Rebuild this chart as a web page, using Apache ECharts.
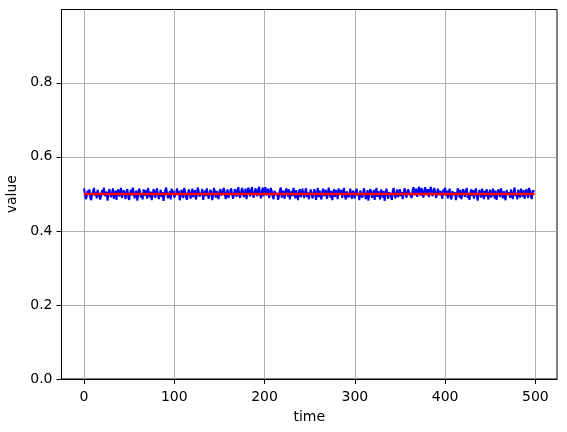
<!DOCTYPE html>
<html>
<head>
<meta charset="utf-8">
<script src="https://cdn.jsdelivr.net/npm/echarts@6/dist/echarts.min.js"></script>
<style>html,body{margin:0;padding:0;background:#fff}#c{width:567px;height:432px}</style>
</head>
<body>
<div id="c"></div>
<script>
const xTicks = [0, 100, 200, 300, 400, 500];
const yTicks = [0, 0.2, 0.4, 0.6, 0.8];
const meanLevel = [0.5, 0.5];
const meanTimes = [0, 499];
const values = [
0.515,0.498,0.486,0.493,0.509,0.501,0.512,0.489,0.483,0.5,0.507,0.516,0.495,0.504,0.488,0.511,0.514,0.492,0.485,0.497,0.51,0.503,0.517,0.494,0.49,0.506,0.482,0.499,0.513,0.508,0.491,0.502,0.515,0.487,0.496,0.509,0.484,0.505,0.512,0.493,0.5,0.516,0.489,0.494,0.51,0.498,0.486,0.507,0.513,0.491,
0.484,0.502,0.511,0.496,0.517,0.505,0.488,0.493,0.509,0.482,0.498,0.514,0.507,0.49,0.501,0.485,0.512,0.495,0.51,0.503,0.487,0.516,0.499,0.491,0.506,0.483,0.497,0.513,0.504,0.489,0.508,0.515,0.494,0.486,0.5,0.511,0.492,0.505,0.481,0.496,0.51,0.517,0.502,0.488,0.493,0.507,0.485,0.514,0.499,0.509,
0.49,0.486,0.503,0.515,0.497,0.508,0.483,0.494,0.511,0.5,0.489,0.516,0.506,0.492,0.484,0.499,0.512,0.505,0.487,0.497,0.514,0.491,0.503,0.51,0.485,0.496,0.517,0.508,0.493,0.488,0.502,0.513,0.484,0.498,0.509,0.494,0.515,0.501,0.487,0.492,0.511,0.505,0.483,0.497,0.516,0.504,0.49,0.508,0.495,0.486,
0.506,0.513,0.495,0.49,0.51,0.516,0.498,0.486,0.503,0.512,0.489,0.494,0.508,0.515,0.5,0.487,0.497,0.513,0.505,0.492,0.511,0.518,0.496,0.489,0.504,0.516,0.509,0.491,0.499,0.514,0.486,0.502,0.517,0.507,0.493,0.51,0.518,0.497,0.49,0.505,0.515,0.501,0.494,0.512,0.519,0.499,0.488,0.506,0.517,0.493,
0.511,0.518,0.496,0.505,0.514,0.489,0.5,0.516,0.507,0.492,0.486,0.508,0.513,0.497,0.503,0.484,0.495,0.511,0.517,0.49,0.502,0.509,0.487,0.498,0.515,0.506,0.493,0.512,0.485,0.499,0.508,0.494,0.516,0.503,0.488,0.51,0.497,0.483,0.505,0.513,0.491,0.5,0.514,0.496,0.489,0.507,0.515,0.492,0.504,0.486,
0.498,0.512,0.503,0.488,0.495,0.513,0.507,0.484,0.5,0.516,0.491,0.509,0.497,0.485,0.506,0.514,0.494,0.502,0.511,0.487,0.496,0.517,0.505,0.49,0.508,0.483,0.499,0.513,0.492,0.51,0.504,0.486,0.515,0.498,0.493,0.511,0.489,0.503,0.516,0.495,0.485,0.507,0.512,0.49,0.5,0.514,0.494,0.487,0.509,0.502,
0.488,0.506,0.514,0.495,0.501,0.483,0.509,0.512,0.49,0.497,0.515,0.504,0.486,0.493,0.51,0.482,0.499,0.513,0.506,0.489,0.495,0.511,0.484,0.502,0.516,0.492,0.507,0.498,0.485,0.512,0.503,0.49,0.508,0.481,0.496,0.514,0.5,0.487,0.505,0.51,0.493,0.484,0.509,0.516,0.497,0.488,0.503,0.512,0.491,0.499,
0.513,0.494,0.505,0.486,0.5,0.515,0.508,0.49,0.497,0.512,0.517,0.499,0.504,0.489,0.511,0.518,0.496,0.507,0.514,0.492,0.502,0.519,0.509,0.495,0.516,0.5,0.49,0.51,0.518,0.503,0.497,0.513,0.491,0.506,0.519,0.511,0.494,0.501,0.516,0.507,0.489,0.498,0.514,0.518,0.496,0.508,0.5,0.487,0.512,0.504,
0.517,0.495,0.509,0.488,0.502,0.514,0.493,0.485,0.507,0.512,0.497,0.504,0.483,0.499,0.515,0.506,0.49,0.511,0.486,0.496,0.513,0.501,0.492,0.509,0.516,0.489,0.498,0.484,0.505,0.512,0.494,0.51,0.487,0.503,0.515,0.499,0.482,0.496,0.511,0.506,0.49,0.514,0.501,0.486,0.508,0.493,0.513,0.497,0.485,0.505,
0.511,0.49,0.498,0.514,0.503,0.487,0.509,0.484,0.496,0.512,0.506,0.491,0.515,0.5,0.488,0.507,0.493,0.483,0.51,0.515,0.497,0.504,0.489,0.512,0.496,0.486,0.508,0.517,0.494,0.501,0.485,0.511,0.499,0.49,0.514,0.505,0.492,0.51,0.487,0.497,0.513,0.502,0.489,0.516,0.507,0.494,0.486,0.509,0.514,0.506
];

const font = 'DejaVu Sans';
const chart = echarts.init(document.getElementById('c'), null, {renderer: 'canvas'});
const axisCommon = {
  axisLine: {show: true, onZero: false, lineStyle: {color: '#000', width: 1}},
  axisTick: {show: true, inside: false, length: 5, lineStyle: {color: '#000', width: 1}},
  splitLine: {show: true, lineStyle: {color: '#b0b0b0', width: 1}},
  nameLocation: 'middle',
  nameTextStyle: {fontFamily: font, fontSize: 14, color: '#000'}
};
chart.setOption({
  animation: false,
  backgroundColor: '#fff',
  grid: {left: 61.5, right: 10, top: 9.5, bottom: 53, show: true, borderColor: '#000', borderWidth: 1,
         containLabel: false, outerBoundsMode: 'none'},
  xAxis: Object.assign({}, axisCommon, {
    type: 'value', min: -24.95, max: 523.95,
    name: 'time', nameGap: 31,
    axisTick: Object.assign({}, axisCommon.axisTick, {customValues: xTicks}),
    axisLabel: {customValues: xTicks, fontFamily: font, fontSize: 14, color: '#000', margin: 11, formatter: v => String(v)}
  }),
  yAxis: Object.assign({}, axisCommon, {
    type: 'value', min: 0, max: 0.998,
    name: 'value', nameGap: 35,
    axisTick: Object.assign({}, axisCommon.axisTick, {customValues: yTicks}),
    axisLabel: {customValues: yTicks, fontFamily: font, fontSize: 14, color: '#000', margin: 9, formatter: v => v.toFixed(1)}
  }),
  series: [
    {type: 'line', data: values.map((v, i) => [i, v]), showSymbol: false, symbol: 'none',
     lineStyle: {color: '#0000ff', width: 2}, z: 2},
    {type: 'line', data: meanTimes.map((t, i) => [t, meanLevel[i]]), showSymbol: false, symbol: 'none',
     lineStyle: {color: '#ff0000', width: 2.5}, z: 10, zlevel: 1}
  ]
});
</script>
</body>
</html>
